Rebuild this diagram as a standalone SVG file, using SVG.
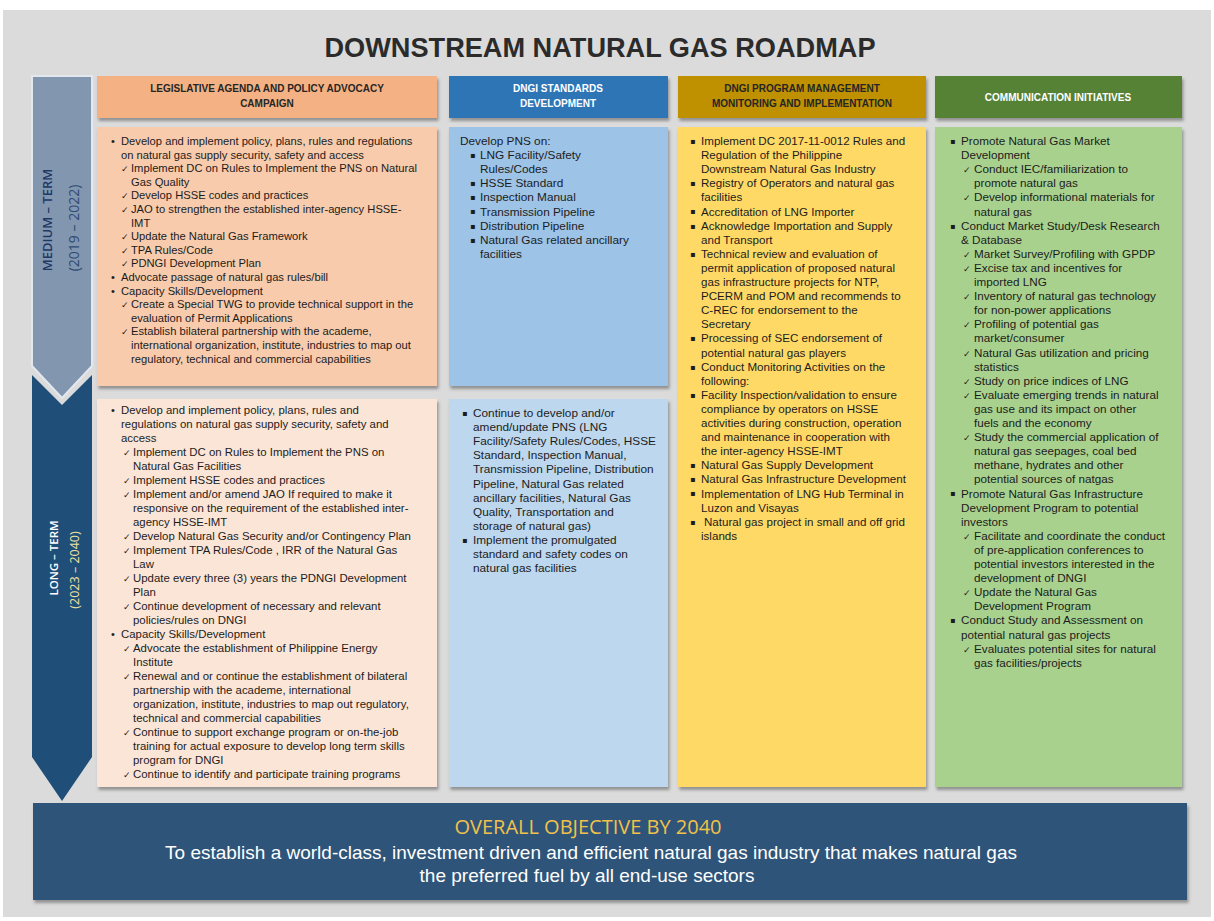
<svg xmlns="http://www.w3.org/2000/svg" width="1214" height="921" viewBox="0 0 1214 921">
<defs>
<filter id="sh" x="-5%" y="-5%" width="110%" height="115%">
<feDropShadow dx="1.5" dy="3" stdDeviation="1.6" flood-color="#555" flood-opacity="0.55"/>
</filter>
<style>
.t{font-family:"Liberation Sans",Arial,sans-serif;fill:#1c1c1c}
.o1{font-size:11.2px}
.o2{font-size:11.4px}
.b1{font-size:11.8px}
.b2{font-size:11.8px}
.g{font-size:11.6px}
.gr{font-size:11.7px}
.ck{font-family:"DejaVu Sans",sans-serif;font-size:9px;fill:#1c1c1c}
.bu{font-family:"Liberation Sans",Arial,sans-serif;font-size:11px;fill:#1c1c1c}
.sq{font-family:"DejaVu Sans",sans-serif;font-size:8px;fill:#1c1c1c}
.hd{font-family:"Liberation Sans",Arial,sans-serif;font-size:10px;font-weight:bold;text-anchor:middle}
.box{filter:url(#sh)}
</style>
</defs>
<rect x="0" y="0" width="1214" height="921" fill="#ffffff"/>
<rect x="3" y="10" width="1208" height="907" fill="#dbdbdb"/>

<g id="title">
<text x="600" y="57" font-family="'Liberation Sans Narrow','Liberation Sans',Arial,sans-serif" font-size="27" font-weight="bold" fill="#2b2b2b" text-anchor="middle" textLength="551" lengthAdjust="spacingAndGlyphs">DOWNSTREAM  NATURAL GAS ROADMAP</text>
</g>

<g id="timeline-medium">
<polygon points="32,76 92,76 92,366 62,398 32,366" fill="#8296b0" stroke="#e2e8ee" stroke-width="2"/>
<text transform="translate(52,220) rotate(-90)" font-family="'Open Sans','Liberation Sans',sans-serif" font-size="13" font-weight="600" fill="#1f3864" text-anchor="middle">MEDIUM – TERM</text>
<text transform="translate(79,228) rotate(-90)" font-family="'Open Sans','Liberation Sans',sans-serif" font-size="14" fill="#2f4b72" text-anchor="middle">(2019 – 2022)</text>
</g>
<g id="timeline-long">
<polygon points="32,375 62,405 92,375 92,757 62,801 32,757" fill="#1f4e79"/>
<text transform="translate(58,558) rotate(-90)" font-family="'Open Sans','Liberation Sans',sans-serif" font-size="11.5" font-weight="600" fill="#ffffff" text-anchor="middle">LONG – TERM</text>
<text transform="translate(79,570) rotate(-90)" font-family="'Open Sans','Liberation Sans',sans-serif" font-size="12.5" fill="#efe0a0" text-anchor="middle">(2023 – 2040)</text>
</g>

<g id="header-legislative">
<rect class="box" x="97" y="76" width="340" height="42" fill="#f4b183"/>
<text class="hd" fill="#262626"><tspan x="267" y="92">LEGISLATIVE AGENDA AND POLICY ADVOCACY</tspan><tspan x="267" y="107">CAMPAIGN</tspan></text>
</g>
<g id="header-standards">
<rect class="box" x="449" y="76" width="219" height="42" fill="#2e75b6"/>
<text class="hd" fill="#ffffff"><tspan x="558" y="92">DNGI STANDARDS</tspan><tspan x="558" y="107">DEVELOPMENT</tspan></text>
</g>
<g id="header-program">
<rect class="box" x="678" y="76" width="248" height="42" fill="#bf9000"/>
<text class="hd" fill="#262626"><tspan x="802" y="92">DNGI PROGRAM MANAGEMENT</tspan><tspan x="802" y="107">MONITORING AND IMPLEMENTATION</tspan></text>
</g>
<g id="header-communication">
<rect class="box" x="935" y="76" width="247" height="42" fill="#548235"/>
<text class="hd" fill="#ffffff" x="1058" y="101">COMMUNICATION INITIATIVES</text>
</g>

<g id="legislative-medium">
<rect class="box" x="97" y="127" width="340" height="259" fill="#f8cbad"/>
<text class="bu"><tspan x="111" y="145">•</tspan><tspan x="111" y="281">•</tspan><tspan x="111" y="294.6">•</tspan></text>
<text class="ck"><tspan x="121" y="172.2">✓</tspan><tspan x="121" y="199.4">✓</tspan><tspan x="121" y="213">✓</tspan><tspan x="121" y="240.2">✓</tspan><tspan x="121" y="253.8">✓</tspan><tspan x="121" y="267.4">✓</tspan><tspan x="121" y="308.2">✓</tspan><tspan x="121" y="335.4">✓</tspan></text>
<text class="t o1">
<tspan x="121" y="145">Develop and implement policy, plans, rules and regulations</tspan>
<tspan x="121" y="158.6">on natural gas supply security, safety and access</tspan>
<tspan x="131" y="172.2">Implement DC on Rules to Implement the PNS on Natural</tspan>
<tspan x="131" y="185.8">Gas Quality</tspan>
<tspan x="131" y="199.4">Develop HSSE codes and practices</tspan>
<tspan x="131" y="213">JAO to strengthen the established inter-agency HSSE-</tspan>
<tspan x="131" y="226.6">IMT</tspan>
<tspan x="131" y="240.2">Update the Natural Gas Framework</tspan>
<tspan x="131" y="253.8">TPA Rules/Code</tspan>
<tspan x="131" y="267.4">PDNGI Development Plan</tspan>
<tspan x="121" y="281">Advocate passage of natural gas rules/bill</tspan>
<tspan x="121" y="294.6">Capacity Skills/Development</tspan>
<tspan x="131" y="308.2">Create a Special TWG to provide technical support in the</tspan>
<tspan x="131" y="321.8">evaluation of Permit Applications</tspan>
<tspan x="131" y="335.4">Establish bilateral partnership with the academe,</tspan>
<tspan x="131" y="349">international organization, institute, industries to map out</tspan>
<tspan x="131" y="362.6">regulatory, technical and commercial capabilities</tspan>
</text>
</g>

<g id="legislative-long">
<rect class="box" x="97" y="399" width="340" height="388" fill="#fbe5d6"/>
<text class="bu"><tspan x="111" y="414">•</tspan><tspan x="111" y="638">•</tspan></text>
<text class="ck"><tspan x="123" y="456">✓</tspan><tspan x="123" y="484">✓</tspan><tspan x="123" y="498">✓</tspan><tspan x="123" y="540">✓</tspan><tspan x="123" y="554">✓</tspan><tspan x="123" y="582">✓</tspan><tspan x="123" y="610">✓</tspan><tspan x="123" y="652">✓</tspan><tspan x="123" y="680">✓</tspan><tspan x="123" y="736">✓</tspan><tspan x="123" y="778">✓</tspan></text>
<text class="t o2">
<tspan x="121" y="414">Develop and implement policy, plans, rules and</tspan>
<tspan x="121" y="428">regulations on natural gas supply security, safety and</tspan>
<tspan x="121" y="442">access</tspan>
<tspan x="133" y="456">Implement DC on Rules to Implement the PNS on</tspan>
<tspan x="133" y="470">Natural Gas Facilities</tspan>
<tspan x="133" y="484">Implement HSSE codes and practices</tspan>
<tspan x="133" y="498">Implement and/or amend JAO If required to make it</tspan>
<tspan x="133" y="512">responsive on the requirement of the established inter-</tspan>
<tspan x="133" y="526">agency HSSE-IMT</tspan>
<tspan x="133" y="540">Develop Natural Gas Security and/or Contingency Plan</tspan>
<tspan x="133" y="554">Implement TPA Rules/Code , IRR of the Natural Gas</tspan>
<tspan x="133" y="568">Law</tspan>
<tspan x="133" y="582">Update every three (3) years the PDNGI Development</tspan>
<tspan x="133" y="596">Plan</tspan>
<tspan x="133" y="610">Continue development of necessary and relevant</tspan>
<tspan x="133" y="624">policies/rules on DNGI</tspan>
<tspan x="121" y="638">Capacity Skills/Development</tspan>
<tspan x="133" y="652">Advocate the establishment of Philippine Energy</tspan>
<tspan x="133" y="666">Institute</tspan>
<tspan x="133" y="680">Renewal and or continue the establishment of bilateral</tspan>
<tspan x="133" y="694">partnership with the academe, international</tspan>
<tspan x="133" y="708">organization, institute, industries to map out regulatory,</tspan>
<tspan x="133" y="722">technical and commercial capabilities</tspan>
<tspan x="133" y="736">Continue to support exchange program or on-the-job</tspan>
<tspan x="133" y="750">training for actual exposure to develop long term skills</tspan>
<tspan x="133" y="764">program for DNGI</tspan>
<tspan x="133" y="778">Continue to identify and participate training programs</tspan>
</text>
</g>

<g id="standards-medium">
<rect class="box" x="449" y="127" width="219" height="259" fill="#9dc3e6"/>
<text class="sq"><tspan x="470" y="158">▪</tspan><tspan x="470" y="186.2">▪</tspan><tspan x="470" y="200.3">▪</tspan><tspan x="470" y="214.4">▪</tspan><tspan x="470" y="228.5">▪</tspan><tspan x="470" y="242.6">▪</tspan></text>
<text class="t b1">
<tspan x="460" y="145">Develop PNS on:</tspan>
<tspan x="480" y="159.1">LNG Facility/Safety</tspan>
<tspan x="480" y="173.2">Rules/Codes</tspan>
<tspan x="480" y="187.3">HSSE Standard</tspan>
<tspan x="480" y="201.4">Inspection Manual</tspan>
<tspan x="480" y="215.5">Transmission Pipeline</tspan>
<tspan x="480" y="229.6">Distribution Pipeline</tspan>
<tspan x="480" y="243.7">Natural Gas related ancillary</tspan>
<tspan x="480" y="257.8">facilities</tspan>
</text>
</g>

<g id="standards-long">
<rect class="box" x="449" y="399" width="219" height="388" fill="#bdd7ee"/>
<text class="sq"><tspan x="462" y="416">▪</tspan><tspan x="462" y="542.8">▪</tspan></text>
<text class="t b2">
<tspan x="473" y="417">Continue to develop and/or</tspan>
<tspan x="473" y="431.1">amend/update PNS (LNG</tspan>
<tspan x="473" y="445.2">Facility/Safety Rules/Codes, HSSE</tspan>
<tspan x="473" y="459.3">Standard, Inspection Manual,</tspan>
<tspan x="473" y="473.4">Transmission Pipeline, Distribution</tspan>
<tspan x="473" y="487.5">Pipeline, Natural Gas related</tspan>
<tspan x="473" y="501.6">ancillary facilities, Natural Gas</tspan>
<tspan x="473" y="515.7">Quality, Transportation and</tspan>
<tspan x="473" y="529.8">storage of natural gas)</tspan>
<tspan x="473" y="543.9">Implement the promulgated</tspan>
<tspan x="473" y="558">standard and safety codes on</tspan>
<tspan x="473" y="572.1">natural gas facilities</tspan>
</text>
</g>

<g id="program-management">
<rect class="box" x="678" y="127" width="248" height="660" fill="#ffd966"/>
<text class="sq"><tspan x="690" y="143.9">▪</tspan><tspan x="690" y="186.2">▪</tspan><tspan x="690" y="214.4">▪</tspan><tspan x="690" y="228.5">▪</tspan><tspan x="690" y="256.7">▪</tspan><tspan x="690" y="341.3">▪</tspan><tspan x="690" y="369.5">▪</tspan><tspan x="690" y="397.7">▪</tspan><tspan x="690" y="468.2">▪</tspan><tspan x="690" y="482.3">▪</tspan><tspan x="690" y="496.4">▪</tspan><tspan x="690" y="524.6">▪</tspan></text>
<text class="t g">
<tspan x="701" y="145">Implement DC 2017-11-0012 Rules and</tspan>
<tspan x="701" y="159.1">Regulation of the Philippine</tspan>
<tspan x="701" y="173.2">Downstream Natural Gas Industry</tspan>
<tspan x="701" y="187.3">Registry of Operators and natural gas</tspan>
<tspan x="701" y="201.4">facilities</tspan>
<tspan x="701" y="215.5">Accreditation of LNG Importer</tspan>
<tspan x="701" y="229.6">Acknowledge Importation and Supply</tspan>
<tspan x="701" y="243.7">and Transport</tspan>
<tspan x="701" y="257.8">Technical review and evaluation of</tspan>
<tspan x="701" y="271.9">permit application of proposed natural</tspan>
<tspan x="701" y="286">gas infrastructure projects for NTP,</tspan>
<tspan x="701" y="300.1">PCERM and POM and recommends to</tspan>
<tspan x="701" y="314.2">C-REC for endorsement to the</tspan>
<tspan x="701" y="328.3">Secretary</tspan>
<tspan x="701" y="342.4">Processing of SEC endorsement of</tspan>
<tspan x="701" y="356.5">potential natural gas players</tspan>
<tspan x="701" y="370.6">Conduct Monitoring Activities on the</tspan>
<tspan x="701" y="384.7">following:</tspan>
<tspan x="701" y="398.8">Facility Inspection/validation to ensure</tspan>
<tspan x="701" y="412.9">compliance by operators on HSSE</tspan>
<tspan x="701" y="427">activities during construction, operation</tspan>
<tspan x="701" y="441.1">and maintenance in cooperation with</tspan>
<tspan x="701" y="455.2">the inter-agency HSSE-IMT</tspan>
<tspan x="701" y="469.3">Natural Gas Supply Development</tspan>
<tspan x="701" y="483.4">Natural Gas Infrastructure Development</tspan>
<tspan x="701" y="497.5">Implementation of LNG Hub Terminal in</tspan>
<tspan x="701" y="511.6">Luzon and Visayas</tspan>
<tspan x="704" y="525.7">Natural gas project in small and off grid</tspan>
<tspan x="701" y="539.8">islands</tspan>
</text>
</g>

<g id="communication">
<rect class="box" x="935" y="127" width="247" height="660" fill="#a9d18e"/>
<text class="sq"><tspan x="950" y="143.9">▪</tspan><tspan x="950" y="228.5">▪</tspan><tspan x="950" y="496.4">▪</tspan><tspan x="950" y="623.3">▪</tspan></text>
<text class="ck"><tspan x="963" y="173.2">✓</tspan><tspan x="963" y="201.4">✓</tspan><tspan x="963" y="257.8">✓</tspan><tspan x="963" y="271.9">✓</tspan><tspan x="963" y="300.1">✓</tspan><tspan x="963" y="328.3">✓</tspan><tspan x="963" y="356.5">✓</tspan><tspan x="963" y="384.7">✓</tspan><tspan x="963" y="398.8">✓</tspan><tspan x="963" y="441.1">✓</tspan><tspan x="963" y="539.8">✓</tspan><tspan x="963" y="596.2">✓</tspan><tspan x="963" y="652.6">✓</tspan></text>
<text class="t gr">
<tspan x="961" y="145">Promote Natural Gas Market</tspan>
<tspan x="961" y="159.1">Development</tspan>
<tspan x="974" y="173.2">Conduct IEC/familiarization to</tspan>
<tspan x="974" y="187.3">promote natural gas</tspan>
<tspan x="974" y="201.4">Develop informational materials for</tspan>
<tspan x="974" y="215.5">natural gas</tspan>
<tspan x="961" y="229.6">Conduct Market Study/Desk Research</tspan>
<tspan x="961" y="243.7">&amp; Database</tspan>
<tspan x="974" y="257.8">Market Survey/Profiling with GPDP</tspan>
<tspan x="974" y="271.9">Excise tax and incentives for</tspan>
<tspan x="974" y="286">imported LNG</tspan>
<tspan x="974" y="300.1">Inventory of natural gas technology</tspan>
<tspan x="974" y="314.2">for non-power    applications</tspan>
<tspan x="974" y="328.3">Profiling of potential gas</tspan>
<tspan x="974" y="342.4">market/consumer</tspan>
<tspan x="974" y="356.5">Natural Gas utilization and pricing</tspan>
<tspan x="974" y="370.6">statistics</tspan>
<tspan x="974" y="384.7">Study on price indices of LNG</tspan>
<tspan x="974" y="398.8">Evaluate emerging trends in natural</tspan>
<tspan x="974" y="412.9">gas use and its impact on other</tspan>
<tspan x="974" y="427">fuels and the economy</tspan>
<tspan x="974" y="441.1">Study the commercial application of</tspan>
<tspan x="974" y="455.2">natural gas seepages, coal bed</tspan>
<tspan x="974" y="469.3">methane, hydrates and other</tspan>
<tspan x="974" y="483.4">potential sources of natgas</tspan>
<tspan x="961" y="497.5">Promote Natural Gas Infrastructure</tspan>
<tspan x="961" y="511.6">Development Program to potential</tspan>
<tspan x="961" y="525.7">investors</tspan>
<tspan x="974" y="539.8">Facilitate and coordinate the conduct</tspan>
<tspan x="974" y="553.9">of pre-application conferences to</tspan>
<tspan x="974" y="568">potential investors interested in the</tspan>
<tspan x="974" y="582.1">development of DNGI</tspan>
<tspan x="974" y="596.2">Update the Natural Gas</tspan>
<tspan x="974" y="610.3">Development Program</tspan>
<tspan x="961" y="624.4">Conduct Study and Assessment on</tspan>
<tspan x="961" y="638.5">potential natural gas projects</tspan>
<tspan x="974" y="652.6">Evaluates potential sites for natural</tspan>
<tspan x="974" y="666.7">gas facilities/projects</tspan>
</text>
</g>

<g id="objective">
<rect class="box" x="33" y="803" width="1154" height="97" fill="#2e5479"/>
<text x="588" y="834" font-family="'Open Sans','Liberation Sans',sans-serif" font-size="20" fill="#f2c14a" text-anchor="middle">OVERALL OBJECTIVE BY 2040</text>
<text x="591" y="859" font-family="'Liberation Sans',Arial,sans-serif" font-size="19" fill="#ffffff" text-anchor="middle">To establish a world-class, investment driven and efficient natural gas industry that makes natural gas</text>
<text x="587" y="882" font-family="'Liberation Sans',Arial,sans-serif" font-size="19" fill="#ffffff" text-anchor="middle">the preferred fuel by all end-use sectors</text>
</g>

<g id="connectors"/>
</svg>
